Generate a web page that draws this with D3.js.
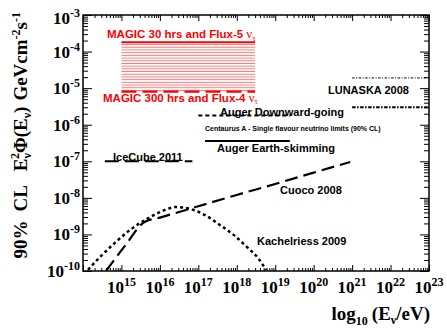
<!DOCTYPE html>
<html>
<head>
<meta charset="utf-8">
<script src="https://cdn.jsdelivr.net/npm/d3@7"></script>
<style>
  body { margin: 0; background: #fff; }
  svg { display: block; }
</style>
</head>
<body>
<div id="chart"></div>
<script>
// energies in eV, fluxes in GeV cm^-2 s^-1
const magicE = [1e15, 3e18];
const magic30Flux = [1.8e-4, 1.8e-4];
const magic300Flux = [8e-6, 8e-6];

const augerDownE = [1e17, 2.5e19];
const augerDownFlux = [1.8e-6, 1.8e-6];

const augerEarthE = [1.5e17, 2.4e19];
const augerEarthFlux = [3.6e-7, 3.6e-7];

const iceCubeE = [3.7e14, 7e16];
const iceCubeFlux = [1e-7, 1e-7];

const lunaskaE = [1e21, 1e23];
const lunaskaHighFlux = [1.9e-5, 1.9e-5];
const lunaskaLowFlux = [3e-6, 3e-6];

// log10 values
const cuocoLogE = [14.6, 15.1, 15.6, 16, 17, 18, 19, 20, 20.95];
const cuocoLogFlux = [-10, -9.3, -8.66, -8.54, -8.23, -7.92, -7.62, -7.31, -7.02];

const kachLogE = [14.13, 14.44, 14.83, 15.22, 15.61, 16.0, 16.42, 16.78, 17.17, 17.56, 17.95, 18.29, 18.55, 18.76];
const kachLogFlux = [-9.97, -9.62, -9.23, -8.88, -8.61, -8.39, -8.25, -8.3, -8.47, -8.74, -9.04, -9.37, -9.64, -9.97];

const xDecades = d3.range(14, 24);
const yDecades = d3.range(-10, -2);

const W = 447, H = 328;
const margin = { top: 15, right: 18, bottom: 57, left: 83 };

const svg = d3.select('#chart').append('svg')
  .attr('width', W).attr('height', H);

const x = d3.scaleLog().domain([1e14, 1e23]).range([margin.left, W - margin.right]);
const y = d3.scaleLog().domain([1e-10, 1e-3]).range([H - margin.bottom, margin.top]);

const serif = '"Liberation Serif", "DejaVu Serif", serif';
const sans = '"Liberation Sans", Arial, sans-serif';

const defs = svg.append('defs');
defs.append('clipPath').attr('id', 'plotclip')
  .append('rect')
  .attr('x', x.range()[0]).attr('y', y.range()[1])
  .attr('width', x.range()[1] - x.range()[0])
  .attr('height', y.range()[0] - y.range()[1]);

const hatch = defs.append('pattern')
  .attr('id', 'hatch').attr('patternUnits', 'userSpaceOnUse')
  .attr('width', 6).attr('height', 2.7);
hatch.append('line')
  .attr('x1', 0).attr('x2', 6).attr('y1', 1.3).attr('y2', 1.3)
  .attr('stroke', '#ff0000').attr('stroke-width', 0.55);

// ticks
const xMinor = [];
xDecades.forEach((d) => {
  for (let k = 2; k < 10; k++) if (d < 23) xMinor.push(k * Math.pow(10, d));
});
const yMinor = [];
yDecades.forEach((d) => {
  for (let k = 2; k < 10; k++) if (d < -3) yMinor.push(k * Math.pow(10, d));
});
const xMajor = xDecades.map((d) => Math.pow(10, d));
const yMajor = yDecades.map((d) => Math.pow(10, d));

const [x0, x1] = x.range();
const [y1, y0] = [y.range()[1], y.range()[0]];

const tickGroup = (sel) => sel.selectAll('.domain').remove();

svg.append('g').attr('transform', 'translate(0,' + y0 + ')')
  .call(d3.axisBottom(x).tickValues(xMinor).tickSize(-3).tickFormat(''))
  .call(tickGroup);
svg.append('g').attr('transform', 'translate(0,' + y0 + ')')
  .call(d3.axisBottom(x).tickValues(xMajor).tickSize(-6).tickFormat(''))
  .call(tickGroup);
svg.append('g').attr('transform', 'translate(0,' + y1 + ')')
  .call(d3.axisTop(x).tickValues(xMinor).tickSize(-3).tickFormat(''))
  .call(tickGroup);
svg.append('g').attr('transform', 'translate(0,' + y1 + ')')
  .call(d3.axisTop(x).tickValues(xMajor).tickSize(-6).tickFormat(''))
  .call(tickGroup);

svg.append('g').attr('transform', 'translate(' + x0 + ',0)')
  .call(d3.axisLeft(y).tickValues(yMinor).tickSize(-5).tickFormat(''))
  .call(tickGroup);
svg.append('g').attr('transform', 'translate(' + x0 + ',0)')
  .call(d3.axisLeft(y).tickValues(yMajor).tickSize(-9).tickFormat(''))
  .call(tickGroup);
svg.append('g').attr('transform', 'translate(' + x1 + ',0)')
  .call(d3.axisRight(y).tickValues(yMinor).tickSize(-5).tickFormat(''))
  .call(tickGroup);
svg.append('g').attr('transform', 'translate(' + x1 + ',0)')
  .call(d3.axisRight(y).tickValues(yMajor).tickSize(-9).tickFormat(''))
  .call(tickGroup);

svg.selectAll('.tick line').attr('stroke', '#000').attr('stroke-width', 1);

// tick labels
xDecades.filter((d) => d >= 15).forEach((d) => {
  const t = svg.append('text')
    .attr('x', x(Math.pow(10, d)))
    .attr('y', 293)
    .attr('text-anchor', 'middle')
    .style('font-family', serif).style('font-weight', 'bold').style('font-size', '17px');
  t.append('tspan').text('10');
  t.append('tspan').attr('dy', -7).style('font-size', '12px').text(d);
});

yDecades.forEach((d) => {
  const t = svg.append('text')
    .attr('x', 80)
    .attr('y', y(Math.pow(10, d)) + 6 + (d === -3 ? 3 : 0))
    .attr('text-anchor', 'end')
    .style('font-family', serif).style('font-weight', 'bold').style('font-size', '17px');
  t.append('tspan').text('10');
  t.append('tspan').attr('dy', -7).style('font-size', '12px').text(d);
});

// axis titles
const xt = svg.append('text')
  .attr('x', 430).attr('y', 320)
  .attr('text-anchor', 'end')
  .style('font-family', serif).style('font-weight', 'bold').style('font-size', '19px');
xt.append('tspan').text('log');
xt.append('tspan').attr('dy', 5).style('font-size', '12px').text('10');
xt.append('tspan').attr('dy', -5).attr('dx', 4).text('(E');
xt.append('tspan').attr('dy', 4).style('font-size', '12px').text('ν');
xt.append('tspan').attr('dy', -4).text('/eV)');

const yt = svg.append('text')
  .attr('transform', 'translate(27,12) rotate(-90)')
  .attr('text-anchor', 'end')
  .style('font-family', serif).style('font-weight', 'bold').style('font-size', '19px');
yt.append('tspan').text('90%');
yt.append('tspan').attr('dx', 9).text('CL');
yt.append('tspan').attr('dx', 14).text('E');
yt.append('tspan').attr('dy', 4).style('font-size', '12px').text('ν');
yt.append('tspan').attr('dx', -6).attr('dy', -12).style('font-size', '12px').text('2');
yt.append('tspan').attr('dy', 8).text('Φ(E');
yt.append('tspan').attr('dy', 4).style('font-size', '12px').text('ν');
yt.append('tspan').attr('dy', -4).text(')');
yt.append('tspan').attr('dx', 6).text('GeVcm');
yt.append('tspan').attr('dy', -7).style('font-size', '12px').text('-2');
yt.append('tspan').attr('dy', 7).text('s');
yt.append('tspan').attr('dy', -7).style('font-size', '12px').text('-1');

// data
const plot = svg.append('g').attr('clip-path', 'url(#plotclip)');

const lineE = d3.line().x((d) => x(d[0])).y((d) => y(d[1]));
const lineLog = d3.line().curve(d3.curveMonotoneX)
  .x((d) => x(Math.pow(10, d[0]))).y((d) => y(Math.pow(10, d[1])));

const pair = (a, b) => a.map((v, i) => [v, b[i]]);

// MAGIC band
plot.append('path')
  .datum(magicE.map((e, i) => [e, magic300Flux[i], magic30Flux[i]]))
  .attr('fill', 'url(#hatch)')
  .attr('d', d3.area().x((d) => x(d[0])).y0((d) => y(d[1])).y1((d) => y(d[2])));

plot.append('path').datum(pair(magicE, magic30Flux))
  .attr('d', lineE).attr('fill', 'none')
  .attr('stroke', '#ff0000').attr('stroke-width', 2.2);

plot.append('path').datum(pair(magicE, magic300Flux))
  .attr('d', lineE).attr('fill', 'none')
  .attr('stroke', '#ff0000').attr('stroke-width', 2.2)
  .attr('stroke-dasharray', '15,6');

const styled = [
  { e: augerDownE, f: augerDownFlux, dash: '4,3', w: 2 },
  { e: augerEarthE, f: augerEarthFlux, dash: null, w: 2 },
  { e: iceCubeE, f: iceCubeFlux, dash: '14,6', w: 2 },
  { e: lunaskaE, f: lunaskaHighFlux, dash: '2.5,1.5,1,1.5', w: 1 },
  { e: lunaskaE, f: lunaskaLowFlux, dash: '3.5,1.5,1.5,1.5', w: 2 },
];
styled.forEach((s) => {
  plot.append('path').datum(pair(s.e, s.f))
    .attr('d', lineE).attr('fill', 'none')
    .attr('stroke', '#000').attr('stroke-width', s.w)
    .attr('stroke-dasharray', s.dash);
});

plot.append('path').datum(pair(cuocoLogE, cuocoLogFlux))
  .attr('d', lineLog).attr('fill', 'none')
  .attr('stroke', '#000').attr('stroke-width', 2.2)
  .attr('stroke-dasharray', '13,6');

plot.append('path').datum(pair(kachLogE, kachLogFlux))
  .attr('d', lineLog).attr('fill', 'none')
  .attr('stroke', '#000').attr('stroke-width', 2.5)
  .attr('stroke-dasharray', '3,3');

// frame
svg.append('rect')
  .attr('x', x0).attr('y', y1)
  .attr('width', x1 - x0).attr('height', y0 - y1)
  .attr('fill', 'none').attr('stroke', '#000').attr('stroke-width', 1.5);

// labels
const label = (tx, ty, str, size, color, anchor) =>
  svg.append('text').attr('x', tx).attr('y', ty)
    .attr('text-anchor', anchor || 'start')
    .style('font-family', sans).style('font-weight', 'bold')
    .style('font-size', size + 'px').attr('fill', color || '#000')
    .text(str);

const m30 = label(107, 38, 'MAGIC 30 hrs and Flux-5 ', 11.5, '#ff0000');
m30.append('tspan').style('font-family', serif).style('font-weight', 'normal').style('font-size', '13px').text('ν');
m30.append('tspan').attr('dy', 3).style('font-family', serif).style('font-weight', 'normal').style('font-size', '9px').text('τ');

const m300 = label(103, 102, 'MAGIC 300 hrs and Flux-4 ', 11.5, '#ff0000');
m300.append('tspan').style('font-family', serif).style('font-weight', 'normal').style('font-size', '13px').text('ν');
m300.append('tspan').attr('dy', 2).style('font-family', serif).style('font-weight', 'normal').style('font-size', '8px').text('τ');

label(328, 94, 'LUNASKA 2008', 11);
label(220, 116, 'Auger Downward-going', 11);
label(205, 131, 'Centaurus A - Single flavour neutrino limits (90% CL)', 7);
label(217, 152, 'Auger Earth-skimming', 11);
label(113, 161, 'IceCube 2011', 11);
label(280, 194, 'Cuoco 2008', 11);
label(257, 245, 'Kachelriess 2009', 11);
</script>
</body>
</html>
